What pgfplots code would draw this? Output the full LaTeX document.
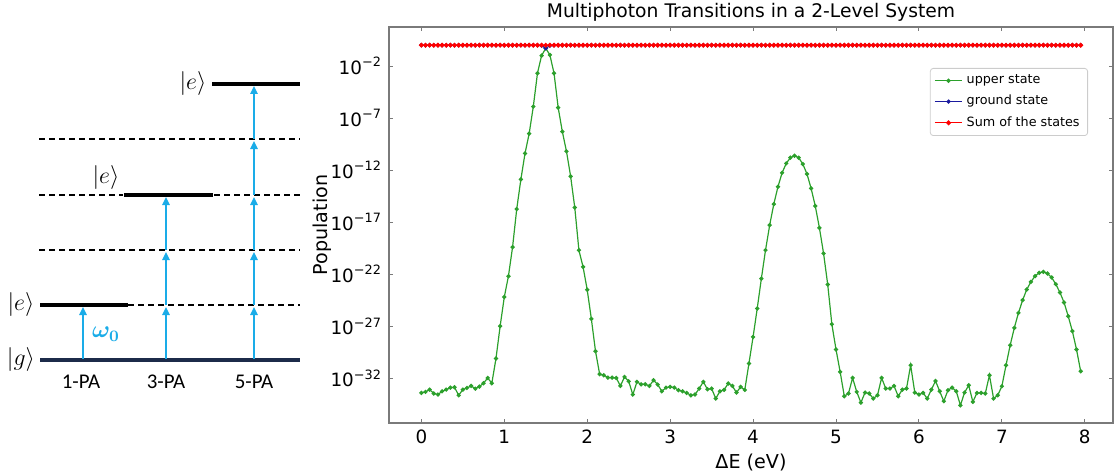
\documentclass[border=0pt]{standalone}
\usepackage{amsmath}
\usepackage{pgfplots}
\pgfplotsset{compat=1.18}
\usepackage{pgfplotstable}
\usepackage{fontspec}
\setmainfont{DejaVu Sans}
\newfontfamily\calib{Carlito}
\usetikzlibrary{arrows.meta}
\definecolor{upc}{HTML}{2CA02C}
\definecolor{grc}{HTML}{1A1A9E}
\definecolor{smc}{HTML}{FF0000}
\definecolor{arr}{HTML}{1AACE8}
\definecolor{gnd}{HTML}{1C2B4A}
\definecolor{spine}{HTML}{7A7A7A}

% populations vs detuning (x in eV)
\pgfplotstableread{
x up gr sm
0.00 3.9e-34 1 1
0.05 4.9e-34 1 1
0.10 8.1e-34 1 1
0.15 3.4e-34 1 1
0.20 2.7e-34 1 1
0.25 5.6e-34 1 1
0.30 8.1e-34 1 1
0.35 1.26e-33 1 1
0.40 1.35e-33 1 1
0.45 2.3e-34 1 1
0.50 8.1e-34 1 1
0.55 1.17e-33 1 1
0.60 1.82e-33 1 1
0.65 1.0e-33 1 1
0.70 1.58e-33 1 1
0.75 3.3e-33 1 1
0.80 1.07e-32 1 1
0.85 3.3e-33 1 1
0.90 7.9e-31 1 1
0.95 1.0e-27 1 1
1.00 6.3e-25 1 1
1.05 6.3e-23 1 1
1.10 4.0e-20 1 1
1.15 1.78e-16 1 1
1.20 1.26e-13 1 1
1.25 4.0e-11 1 1
1.30 3.16e-9 1 1
1.35 1.26e-6 1 1
1.40 2.0e-3 0.998 1
1.45 0.1 0.9 1
1.50 0.5 0.5 1
1.55 0.115 0.885 1
1.60 2.0e-3 0.998 1
1.65 1.0e-6 1 1
1.70 5.0e-9 1 1
1.75 6.3e-11 1 1
1.80 2.5e-13 1 1
1.85 2.5e-16 1 1
1.90 2.0e-20 1 1
1.95 5.0e-22 1 1
2.00 3.16e-24 1 1
2.05 5.0e-27 1 1
2.10 4.0e-30 1 1
2.15 2.45e-32 1 1
2.20 1.95e-32 1 1
2.25 1.15e-32 1 1
2.30 1.15e-32 1 1
2.35 1.07e-32 1 1
2.40 1.82e-33 1 1
2.45 1.35e-32 1 1
2.50 5.1e-33 1 1
2.55 2.7e-34 1 1
2.60 4.5e-33 1 1
2.65 2.6e-33 1 1
2.70 2.6e-33 1 1
2.75 1.82e-33 1 1
2.80 6.5e-33 1 1
2.85 2.45e-33 1 1
2.90 5.6e-34 1 1
2.95 1.26e-33 1 1
3.00 1.48e-33 1 1
3.05 1.26e-33 1 1
3.10 7.1e-34 1 1
3.15 5.6e-34 1 1
3.20 3.9e-34 1 1
3.25 2.3e-34 1 1
3.30 2.7e-34 1 1
3.35 1.02e-33 1 1
3.40 4.5e-33 1 1
3.45 8.7e-34 1 1
3.50 1.02e-33 1 1
3.55 1.12e-34 1 1
3.60 5.6e-34 1 1
3.65 7.6e-34 1 1
3.70 3.1e-33 1 1
3.75 1.82e-33 1 1
3.80 4.2e-34 1 1
3.85 1.48e-33 1 1
3.90 7.6e-34 1 1
3.95 2.6e-31 1 1
4.00 9.3e-29 1 1
4.05 5.0e-26 1 1
4.10 3.8e-23 1 1
4.15 2.04e-20 1 1
4.20 5.1e-18 1 1
4.25 5.4e-16 1 1
4.30 2.5e-14 1 1
4.35 5.5e-13 1 1
4.40 4.4e-12 1 1
4.45 1.55e-11 1 1
4.50 2.4e-11 1 1
4.55 1.55e-11 1 1
4.60 3.8e-12 1 1
4.65 4.2e-13 1 1
4.70 1.74e-14 1 1
4.75 3.5e-16 1 1
4.80 2.8e-18 1 1
4.85 9.8e-21 1 1
4.90 1.02e-23 1 1
4.95 1.55e-27 1 1
5.00 5.8e-30 1 1
5.05 4.1e-32 1 1
5.10 1.86e-34 1 1
5.15 3.4e-34 1 1
5.20 1.07e-32 1 1
5.25 4.9e-34 1 1
5.30 4.6e-35 1 1
5.35 4.2e-34 1 1
5.40 3.4e-34 1 1
5.45 1.12e-34 1 1
5.50 2.3e-34 1 1
5.55 1.07e-32 1 1
5.60 1.02e-33 1 1
5.65 1.02e-33 1 1
5.70 1.82e-33 1 1
5.75 1.86e-34 1 1
5.80 8.1e-34 1 1
5.85 1.02e-33 1 1
5.90 1.78e-31 1 1
5.95 4.2e-34 1 1
6.00 2.7e-34 1 1
6.05 3.9e-34 1 1
6.10 1.12e-34 1 1
6.15 8.1e-34 1 1
6.20 5.5e-33 1 1
6.25 5.6e-34 1 1
6.30 6.2e-35 1 1
6.35 7.1e-34 1 1
6.40 1.26e-33 1 1
6.45 5.6e-34 1 1
6.50 2.5e-35 1 1
6.55 4.2e-34 1 1
6.60 2.1e-33 1 1
6.65 5.4e-35 1 1
6.70 3.9e-34 1 1
6.75 3.9e-34 1 1
6.80 3.4e-34 1 1
6.85 1.95e-32 1 1
6.90 1.12e-34 1 1
6.95 2.3e-34 1 1
7.00 1.7e-33 1 1
7.05 1.78e-31 1 1
7.10 1.48e-29 1 1
7.15 6.9e-28 1 1
7.20 1.9e-26 1 1
7.25 3.16e-25 1 1
7.30 3.4e-24 1 1
7.35 1.82e-23 1 1
7.40 6.5e-23 1 1
7.45 1.35e-22 1 1
7.50 1.66e-22 1 1
7.55 1.15e-22 1 1
7.60 4.8e-23 1 1
7.65 1.1e-23 1 1
7.70 1.74e-24 1 1
7.75 1.9e-25 1 1
7.80 9.1e-27 1 1
7.85 3.3e-28 1 1
7.90 5.8e-30 1 1
7.95 4.7e-32 1 1
}\pop

\begin{document}
\begin{tikzpicture}
\useasboundingbox (0,0) rectangle (557bp,237.5bp);

% level diagram, in pixel units of the reference
\begin{axis}[at={(0,0)},anchor=south west,width=557bp,height=237.5bp,scale only axis,
  xmin=0,xmax=1114,ymin=0,ymax=475,y dir=reverse,hide axis,clip=false,
  dsh/.style={black,line width=0.6bp,dash pattern=on 3bp off 2bp},
  lvl/.style={line width=2bp},
  ar/.style={arr,line width=0.9bp,-{Triangle[width=3.6bp,length=4bp]}}]
\addplot[dsh] coordinates {(128,305) (300,305)};
\addplot[dsh] coordinates {(39,250) (300,250)};
\addplot[dsh] coordinates {(39,195) (123,195)};
\addplot[dsh] coordinates {(214,195) (300,195)};
\addplot[dsh] coordinates {(39,139) (300,139)};
\addplot[lvl,gnd] coordinates {(40,360) (300,360)};
\addplot[lvl,black] coordinates {(40,305) (128,305)};
\addplot[lvl,black] coordinates {(124,195) (213,195)};
\addplot[lvl,black] coordinates {(212,84) (300,84)};
\addplot[ar] coordinates {(83,359) (83,307)};
\addplot[ar] coordinates {(166,359) (166,307)};
\addplot[ar] coordinates {(166,305) (166,252)};
\addplot[ar] coordinates {(166,250) (166,197)};
\addplot[ar] coordinates {(254,359) (254,307)};
\addplot[ar] coordinates {(254,305) (254,252)};
\addplot[ar] coordinates {(254,250) (254,197)};
\addplot[ar] coordinates {(254,195) (254,141)};
\addplot[ar] coordinates {(254,139) (254,86)};
\node[font=\fontsize{11.5}{13}\selectfont] at (axis cs:21,305) {$|e\rangle$};
\node[font=\fontsize{11.5}{13}\selectfont] at (axis cs:106,178) {$|e\rangle$};
\node[font=\fontsize{11.5}{13}\selectfont] at (axis cs:193,84) {$|e\rangle$};
\node[font=\fontsize{11.5}{13}\selectfont] at (axis cs:21,360) {$|g\rangle$};
\node[font=\fontsize{12}{14}\selectfont,text=arr] at (axis cs:106,334) {$\boldsymbol{\omega_0}$};
\node[font=\calib\fontsize{10.5}{13}\selectfont] at (axis cs:81,382) {1-PA};
\node[font=\calib\fontsize{10.5}{13}\selectfont] at (axis cs:166,382) {3-PA};
\node[font=\calib\fontsize{10.5}{13}\selectfont] at (axis cs:254,382) {5-PA};
\end{axis}

\begin{axis}[at={(194.5bp,26bp)},anchor=south west,width=362bp,height=198bp,scale only axis,
  ymode=log,xmin=-0.39,xmax=8.34,ymin=5e-37,ymax=56,
  xtick={0,1,2,3,4,5,6,7,8},
  ytick={1e-32,1e-27,1e-22,1e-17,1e-12,1e-7,1e-2},
  yticklabels={10\textsuperscript{−32},10\textsuperscript{−27},10\textsuperscript{−22},10\textsuperscript{−17},10\textsuperscript{−12},10\textsuperscript{−7},10\textsuperscript{−2}},
  minor tick num=0,
  tick align=inside,major tick length=2bp,
  tick style={spine,line width=0.5bp},
  axis line style={spine,line width=0.6bp},
  /pgf/number format/assume math mode=true,
  ticklabel style={font=\fontsize{9.2}{11}\selectfont},
  title={Multiphoton Transitions in a 2-Level System},
  every axis title/.style={font=\fontsize{9.4}{11}\selectfont,at={(axis description cs:0.5,1.038)},anchor=center},
  xlabel={ΔE (eV)},ylabel={Population},
  label style={font=\fontsize{9.6}{11}\selectfont},
  xlabel style={at={(axis description cs:0.5,-0.0985)},anchor=center},
  ylabel style={at={(axis description cs:-0.0925,0.5)},anchor=center},
  legend style={at={(0.9655,0.8965)},anchor=north east,font=\fontsize{6.4}{7.5}\selectfont,
    draw=black!20,rounded corners=1.5pt,inner xsep=2bp,inner ysep=1.2bp,row sep=0.3bp},
  legend cell align=left,
  legend image code/.code={\draw[mark repeat=2,mark phase=2,#1] plot coordinates {(0bp,0bp) (6.8bp,0bp) (13.6bp,0bp)};},
  ]
\addplot[upc,line width=0.6bp,mark=*,mark size=0.75bp] table[x=x,y=up] {\pop};
\addlegendentry{upper state}
\addplot[grc,line width=0.6bp,mark=*,mark size=0.75bp] table[x=x,y=gr] {\pop};
\addlegendentry{ground state}
\addplot[smc,line width=0.6bp,mark=*,mark size=0.9bp] table[x=x,y=sm] {\pop};
\addlegendentry{Sum of the states}
\end{axis}
\end{tikzpicture}
\end{document}
